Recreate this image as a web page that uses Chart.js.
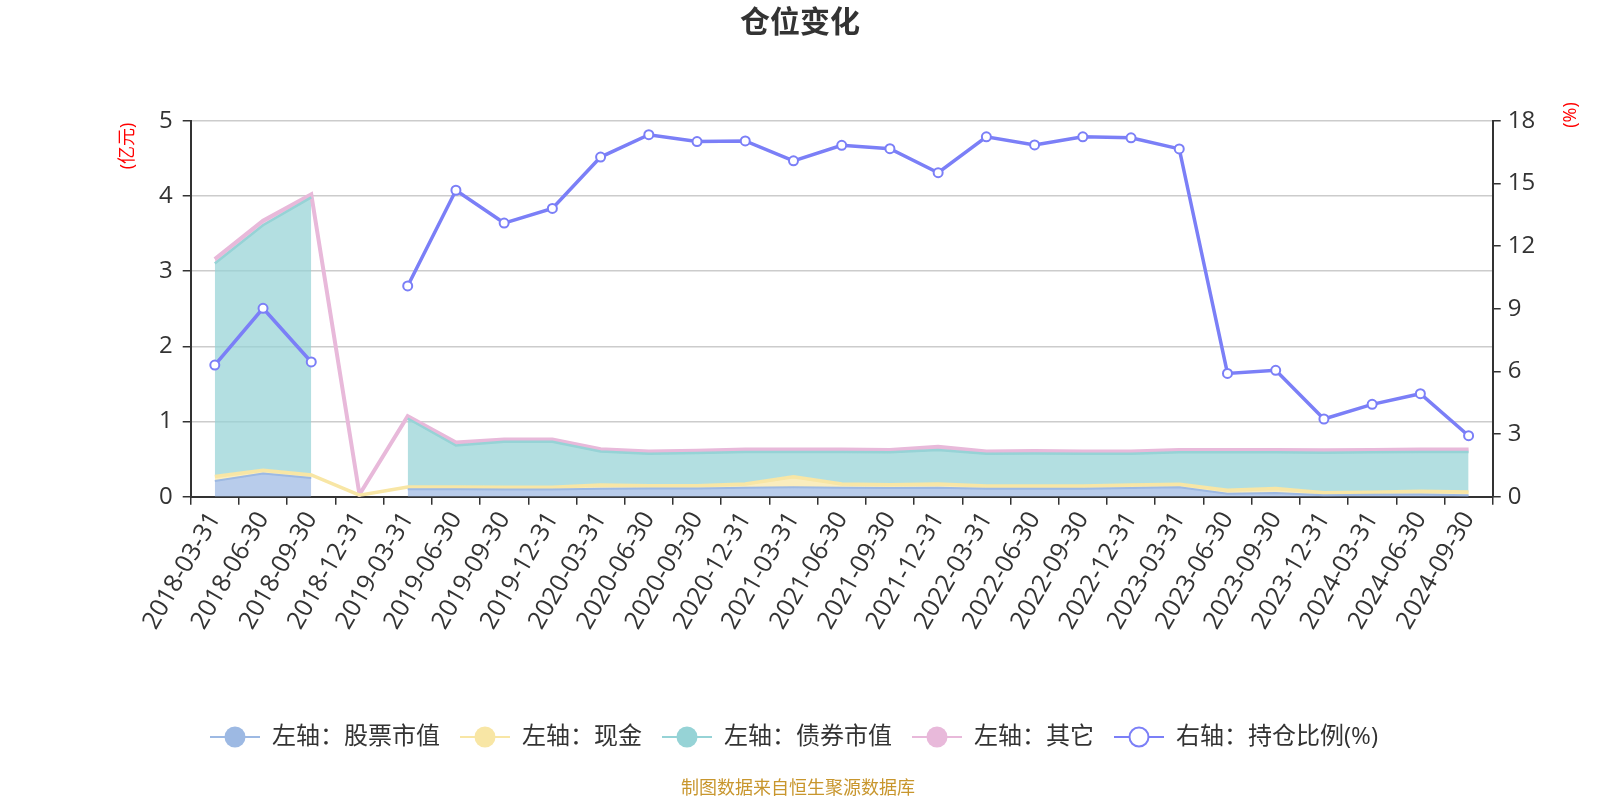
<!DOCTYPE html>
<html><head><meta charset="utf-8">
<script src="https://cdn.jsdelivr.net/npm/chart.js@4.4.1/dist/chart.umd.min.js"></script>
<style>html,body{margin:0;padding:0;background:#fff;}canvas{display:block;}</style>
</head><body>
<canvas id="c" width="1600" height="800"></canvas>
<script>
const categories = ['2018-03-31','2018-06-30','2018-09-30','2018-12-31','2019-03-31','2019-06-30','2019-09-30','2019-12-31','2020-03-31','2020-06-30','2020-09-30','2020-12-31','2021-03-31','2021-06-30','2021-09-30','2021-12-31','2022-03-31','2022-06-30','2022-09-30','2022-12-31','2023-03-31','2023-06-30','2023-09-30','2023-12-31','2024-03-31','2024-06-30','2024-09-30'];
const stockValues = [0.21,0.31,0.25,null,0.10,0.10,0.095,0.095,0.105,0.11,0.11,0.12,0.125,0.12,0.116,0.12,0.107,0.107,0.107,0.116,0.125,0.04,0.05,0.02,0.025,0.028,0.018];
const cashValues = [0.06,0.04,0.04,0.02,0.03,0.03,0.032,0.032,0.051,0.037,0.037,0.05,0.141,0.05,0.044,0.05,0.036,0.036,0.036,0.039,0.041,0.045,0.06,0.034,0.033,0.043,0.044];
const bondValues = [2.83,3.26,3.69,null,0.91,0.55,0.603,0.603,0.444,0.423,0.433,0.425,0.329,0.425,0.43,0.45,0.427,0.432,0.427,0.415,0.424,0.505,0.48,0.531,0.532,0.525,0.534];
const otherValues = [0.06,0.06,0.04,0.01,0.03,0.04,0.03,0.03,0.03,0.03,0.03,0.031,0.031,0.031,0.03,0.045,0.03,0.032,0.03,0.03,0.03,0.03,0.03,0.032,0.03,0.03,0.03];
const ratioValues = [6.30,9.02,6.45,null,10.09,14.67,13.10,13.80,16.26,17.33,17.00,17.03,16.08,16.82,16.66,15.51,17.23,16.84,17.23,17.18,16.65,5.90,6.05,3.72,4.42,4.93,2.92];
const leftTicks = [0,1,2,3,4,5];
const rightTicks = [0,3,6,9,12,15,18];
const seriesNames = ['左轴：股票市值','左轴：现金','左轴：债券市值','左轴：其它','右轴：持仓比例(%)'];

const FONT = '"Open Sans","Noto Sans CJK SC",sans-serif';
const colors = ['#9DB9E3','#F8E6A5','#96D3D6','#E8B9DA','#7B7FF7'];
const fills = ['rgba(157,185,227,0.72)','rgba(248,230,165,0.72)','rgba(150,211,214,0.72)','rgba(232,185,218,0.72)'];

function makeIcon(color, hollow){
  const c = document.createElement('canvas'); c.width = 50; c.height = 24;
  const g = c.getContext('2d');
  g.strokeStyle = color; g.lineWidth = 2;
  g.beginPath(); g.moveTo(0,12); g.lineTo(50,12); g.stroke();
  g.beginPath(); g.arc(25,12,hollow?9.5:10.5,0,Math.PI*2);
  if (hollow){ g.fillStyle='#fff'; g.fill(); g.lineWidth=2; g.stroke(); }
  else { g.fillStyle = color; g.fill(); }
  return c;
}
const icons = colors.map((c,i)=>makeIcon(c, i===4));

const decor = {
  id:'decor',
  afterDraw(chart){
    const ctx = chart.ctx;
    ctx.save();
    ctx.fillStyle = '#333';
    ctx.font = 'bold 30px ' + FONT;
    ctx.textAlign = 'center'; ctx.textBaseline = 'middle';
    ctx.fillText('仓位变化', 800, 23);
    ctx.fillStyle = '#FF0000';
    ctx.font = '18px ' + FONT;
    ctx.save(); ctx.translate(128,146); ctx.rotate(-Math.PI/2); ctx.fillText('(亿元)',0,0); ctx.restore();
    ctx.save(); ctx.translate(1571,115); ctx.rotate(-Math.PI/2); ctx.fillText('(%)',0,0); ctx.restore();
    ctx.fillStyle = '#C8962D';
    ctx.font = '18px ' + FONT;
    ctx.fillText('制图数据来自恒生聚源数据库', 798, 789);
    ctx.restore();
  }
};

const areaBase = {type:'line', yAxisID:'y', stack:'s', pointRadius:0, pointHoverRadius:0, spanGaps:false, tension:0, order:0};
new Chart(document.getElementById('c'), {
  type:'line',
  data:{
    labels: categories,
    datasets:[
      Object.assign({}, areaBase, {label:seriesNames[0], data:stockValues, borderColor:colors[0], backgroundColor:fills[0], borderWidth:2, fill:'origin'}),
      Object.assign({}, areaBase, {label:seriesNames[1], data:cashValues, borderColor:colors[1], backgroundColor:fills[1], borderWidth:3.5, fill:'-1'}),
      Object.assign({}, areaBase, {label:seriesNames[2], data:bondValues, borderColor:colors[2], backgroundColor:fills[2], borderWidth:2.5, fill:'-1'}),
      Object.assign({}, areaBase, {label:seriesNames[3], data:otherValues, borderColor:colors[3], backgroundColor:fills[3], borderWidth:4, fill:'-1'}),
      {type:'line', label:seriesNames[4], data:ratioValues, yAxisID:'y1', borderColor:colors[4], backgroundColor:'#fff', borderWidth:3.5, pointRadius:4.5, pointBorderWidth:2, pointBackgroundColor:'#fff', pointBorderColor:colors[4], fill:false, spanGaps:false, tension:0, order:-1}
    ]
  },
  options:{
    responsive:false, animation:false, devicePixelRatio:1,
    layout:{padding:{top:120.7, left:0, right:12, bottom:41}},
    plugins:{
      filler:{drawTime:'beforeDatasetsDraw', propagate:false},
      tooltip:{enabled:false},
      title:{display:false},
      legend:{
        position:'bottom',
        labels:{
          usePointStyle:true, pointStyleWidth:50, padding:20, color:'#333',
          font:{size:24, family:FONT},
          generateLabels(chart){
            const items = Chart.defaults.plugins.legend.labels.generateLabels(chart);
            items.forEach(it=>{ it.pointStyle = icons[it.datasetIndex]; });
            return items.sort((a,b)=>a.datasetIndex-b.datasetIndex);
          }
        }
      }
    },
    scales:{
      x:{
        type:'category', offset:true,
        grid:{offset:true, drawOnChartArea:false, drawTicks:true, tickLength:8, tickColor:'#333', lineWidth:1.5},
        border:{display:true, color:'#333', width:2},
        ticks:{autoSkip:false, maxRotation:60, minRotation:60, color:'#333', font:{size:25, family:FONT}, padding:2},
        afterFit(s){ s.height = 208.3; }
      },
      y:{
        position:'left', stacked:true, min:0, max:5,
        afterBuildTicks(s){ s.ticks = leftTicks.map(v=>({value:v})); },
        grid:{color:'#cccccc', lineWidth:1.5, drawTicks:true, tickLength:8, tickColor:'#333'},
        border:{display:true, color:'#333', width:2},
        ticks:{color:'#333', font:{size:24, family:FONT}, padding:10},
        afterFit(s){ s.width = 190.7; }
      },
      y1:{
        position:'right', min:0, max:18,
        afterBuildTicks(s){ s.ticks = rightTicks.map(v=>({value:v})); },
        grid:{drawOnChartArea:false, drawTicks:true, tickLength:8, tickColor:'#333', lineWidth:1.5},
        border:{display:true, color:'#333', width:2},
        ticks:{color:'#333', font:{size:24, family:FONT}, padding:7},
        afterFit(s){ s.width = 95.3; }
      }
    }
  },
  plugins:[decor]
});
</script>
</body></html>
